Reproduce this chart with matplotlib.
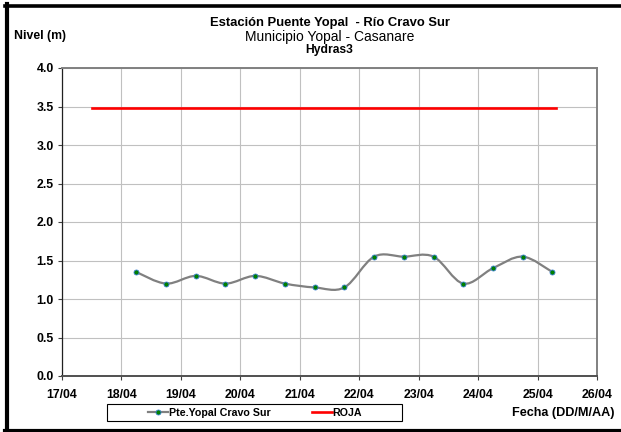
import matplotlib
matplotlib.use('Agg')
import pandas as pd
import matplotlib.pyplot as plt
from matplotlib import dates as mdates
from matplotlib.path import Path
from matplotlib.patches import PathPatch, Rectangle
from matplotlib.lines import Line2D

plt.rcParams['font.family'] = ['Liberation Sans', 'DejaVu Sans']

# lecturas de nivel, estacion Puente Yopal
fechas = ['2013-04-18 06:00', '2013-04-18 18:00', '2013-04-19 06:00', '2013-04-19 18:00',
          '2013-04-20 06:00', '2013-04-20 18:00', '2013-04-21 06:00', '2013-04-21 18:00',
          '2013-04-22 06:00', '2013-04-22 18:00', '2013-04-23 06:00', '2013-04-23 18:00',
          '2013-04-24 06:00', '2013-04-24 18:00', '2013-04-25 06:00']
nivel = [1.35, 1.20, 1.30, 1.20, 1.30, 1.20, 1.15, 1.15, 1.55, 1.55, 1.55, 1.20, 1.40, 1.55, 1.35]

# umbral de alerta roja
fechas_roja = ['2013-04-17 12:00', '2013-04-25 07:30']
nivel_roja = [3.48, 3.48]

dias = ['2013-04-17', '2013-04-18', '2013-04-19', '2013-04-20', '2013-04-21',
        '2013-04-22', '2013-04-23', '2013-04-24', '2013-04-25', '2013-04-26']
niveles_eje = [0.0, 0.5, 1.0, 1.5, 2.0, 2.5, 3.0, 3.5, 4.0]

W, H = 621, 432


def curva_suave(x, y):
    # curva suavizada tipo Excel (bezier por tramos)
    verts = [(x[0], y[0])]
    codes = [Path.MOVETO]
    n = len(x)
    for i in range(n - 1):
        xa, ya = (x[i - 1], y[i - 1]) if i > 0 else (x[i], y[i])
        xb, yb = (x[i + 2], y[i + 2]) if i + 2 < n else (x[i + 1], y[i + 1])
        c1 = (x[i] + (x[i + 1] - xa) / 6.0, y[i] + (y[i + 1] - ya) / 6.0)
        c2 = (x[i + 1] - (xb - x[i]) / 6.0, y[i + 1] - (yb - y[i]) / 6.0)
        verts += [c1, c2, (x[i + 1], y[i + 1])]
        codes += [Path.CURVE4] * 3
    return Path(verts, codes)


def main():
    t = mdates.date2num(pd.to_datetime(fechas))
    t_roja = mdates.date2num(pd.to_datetime(fechas_roja))
    t_dias = mdates.date2num(pd.to_datetime(dias))

    fig = plt.figure(figsize=(W / 100, H / 100), dpi=100, facecolor='white')
    ax = fig.add_axes([62 / W, 1 - 376 / H, 535 / W, 308 / H])

    gris = '#808080'
    ax.add_patch(PathPatch(curva_suave(list(t), nivel), facecolor='none',
                           edgecolor=gris, lw=1.6, zorder=3))
    ax.plot(t, nivel, ls='none', marker='o', ms=3.6, mfc='#008000', mec='#3a7fd0',
            mew=0.6, zorder=4)
    ax.plot(t_roja, nivel_roja, color='#ff0000', lw=1.9, zorder=3)

    ax.set_xlim(t_dias[0], t_dias[-1])
    ax.set_ylim(0, 4.0)
    ax.set_xticks(t_dias)
    ax.xaxis.set_major_formatter(mdates.DateFormatter('%d/%m'))
    ax.set_yticks(niveles_eje)
    ax.yaxis.set_major_formatter(matplotlib.ticker.FormatStrFormatter('%.1f'))
    ax.tick_params(axis='both', direction='out', length=3, width=0.8, color='#404040',
                   labelsize=8.8, pad=3)
    ax.tick_params(axis='x', pad=6)
    for lab in ax.get_xticklabels() + ax.get_yticklabels():
        lab.set_fontweight('bold')
    ax.grid(True, color='#c0c0c0', lw=0.8)
    ax.set_axisbelow(True)
    ax.spines['left'].set_color('#202020')
    ax.spines['left'].set_linewidth(0.9)
    ax.spines['bottom'].set_color('#505050')
    ax.spines['bottom'].set_linewidth(1.4)
    ax.spines['top'].set_color(gris)
    ax.spines['top'].set_linewidth(1.4)
    ax.spines['right'].set_color(gris)
    ax.spines['right'].set_linewidth(1.4)

    # titulos
    cx = (62 + 597) / 2 / W
    fig.text(cx, 1 - 23 / H, 'Estación Puente Yopal  - Río Cravo Sur', ha='center',
             va='center', fontsize=9.4, fontweight='bold')
    fig.text(cx, 1 - 36.5 / H, 'Municipio Yopal - Casanare', ha='center', va='center',
             fontsize=10)
    fig.text(cx, 1 - 49.5 / H, 'Hydras3', ha='center', va='center', fontsize=8.7,
             fontweight='bold')
    fig.text(40 / W, 1 - 36.5 / H, 'Nivel (m)', ha='center', va='center', fontsize=8.8,
             fontweight='bold')
    fig.text(614 / W, 1 - 413 / H, 'Fecha (DD/M/AA)', ha='right', va='center',
             fontsize=9.1, fontweight='bold')

    # leyenda
    h1 = Line2D([], [], color=gris, lw=1.6, marker='o', ms=3.6, mfc='#008000',
                mec='#3a7fd0', mew=0.6)
    h2 = Line2D([], [], color='#ff0000', lw=1.9)
    fig.legend([h1, h2], ['Pte.Yopal Cravo Sur', 'ROJA'], loc='center',
               bbox_to_anchor=(255 / W, 1 - 413 / H), ncol=2, frameon=False,
               handlelength=1.87, handletextpad=0.05, columnspacing=3.9,
               prop={'size': 7.7, 'weight': 'bold'})
    fig.patches.append(Rectangle((107 / W, 1 - 421 / H), 295 / W, 17 / H,
                                 transform=fig.transFigure, facecolor='none',
                                 edgecolor='black', lw=0.8))

    # marco negro
    fig.lines.append(Line2D([7 / W, 7 / W], [0, 1 - 4 / H], transform=fig.transFigure,
                            color='black', lw=3.0))
    fig.lines.append(Line2D([5 / W, 1], [1 - 5.5 / H, 1 - 5.5 / H],
                            transform=fig.transFigure, color='black', lw=2.6))
    fig.lines.append(Line2D([5 / W, 1], [1 - 430.5 / H, 1 - 430.5 / H],
                            transform=fig.transFigure, color='black', lw=3.0))

    fig.savefig('out.png', dpi=100)
    plt.close(fig)


if __name__ == '__main__':
    main()
